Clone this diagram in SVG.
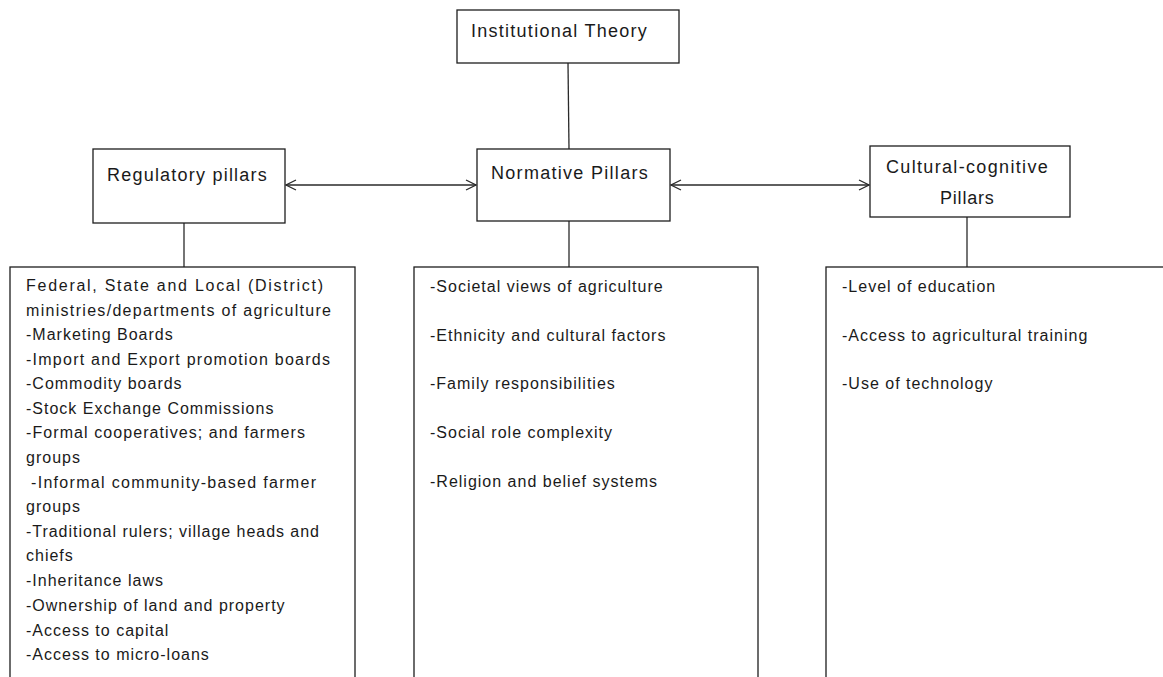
<svg xmlns="http://www.w3.org/2000/svg" width="1163" height="677" viewBox="0 0 1163 677">
  <style>
    .box { fill: #ffffff; stroke: #1e1e1e; stroke-width: 1.3; }
    .link { fill: none; stroke: #2a2a2a; stroke-width: 1.3; }
    .t { font-family: "Liberation Sans", Arial, sans-serif; font-size: 16px; letter-spacing: 1px; fill: #1a1a1a; }
    .h { font-family: "Liberation Sans", Arial, sans-serif; font-size: 18px; letter-spacing: 1.25px; fill: #1a1a1a; }
  </style>
  <defs>
    <marker id="open-arrow" viewBox="0 0 12 12" refX="11" refY="6" markerWidth="12" markerHeight="12" markerUnits="userSpaceOnUse" orient="auto-start-reverse">
      <path d="M1,1 L11,6 L1,11" fill="none" stroke="#2a2a2a" stroke-width="1.3"/>
    </marker>
  </defs>
  <rect width="1163" height="677" fill="#ffffff"/>

  <!-- connectors -->
  <g id="connectors">
    <line class="link" x1="568" y1="63" x2="569" y2="149"/>
    <line class="link" x1="286" y1="185" x2="476" y2="185" marker-start="url(#open-arrow)" marker-end="url(#open-arrow)"/>
    <line class="link" x1="671" y1="185" x2="869" y2="185" marker-start="url(#open-arrow)" marker-end="url(#open-arrow)"/>
    <line class="link" x1="184" y1="223" x2="184" y2="267"/>
    <line class="link" x1="569" y1="221" x2="569" y2="267"/>
    <line class="link" x1="967" y1="217" x2="967" y2="267"/>
  </g>

  <g id="institutional-theory">
    <rect class="box" x="457" y="10" width="222" height="53"/>
    <text class="h" x="471" y="37" textLength="177">Institutional Theory</text>
  </g>

  <g id="regulatory-pillars">
    <rect class="box" x="93" y="149" width="192" height="74"/>
    <text class="h" x="107" y="181" textLength="161">Regulatory pillars</text>
  </g>

  <g id="normative-pillars">
    <rect class="box" x="477" y="149" width="193" height="72"/>
    <text class="h" x="491" y="179" textLength="158">Normative Pillars</text>
  </g>

  <g id="cultural-cognitive-pillars">
    <rect class="box" x="870" y="146" width="200" height="71"/>
    <text class="h" x="886" y="173" textLength="163">Cultural-cognitive</text>
    <text class="h" x="940" y="204" textLength="55">Pillars</text>
  </g>

  <g id="regulatory-items">
    <rect class="box" x="10" y="267" width="345" height="420"/>
    <text class="t" x="26" y="291" textLength="298">Federal, State and Local (District)</text>
    <text class="t" x="26" y="316" textLength="306">ministries/departments of agriculture</text>
    <text class="t" x="26" y="340">-Marketing Boards</text>
    <text class="t" x="26" y="365" textLength="305">-Import and Export promotion boards</text>
    <text class="t" x="26" y="389">-Commodity boards</text>
    <text class="t" x="26" y="414">-Stock Exchange Commissions</text>
    <text class="t" x="26" y="438" textLength="280">-Formal cooperatives; and farmers</text>
    <text class="t" x="26" y="463">groups</text>
    <text class="t" x="31" y="488" textLength="286">-Informal community-based farmer</text>
    <text class="t" x="26" y="512">groups</text>
    <text class="t" x="26" y="537" textLength="294">-Traditional rulers; village heads and</text>
    <text class="t" x="26" y="561">chiefs</text>
    <text class="t" x="26" y="586">-Inheritance laws</text>
    <text class="t" x="26" y="611">-Ownership of land and property</text>
    <text class="t" x="26" y="636">-Access to capital</text>
    <text class="t" x="26" y="660">-Access to micro-loans</text>
  </g>

  <g id="normative-items">
    <rect class="box" x="414" y="267" width="344" height="420"/>
    <text class="t" x="430" y="292">-Societal views of agriculture</text>
    <text class="t" x="430" y="341">-Ethnicity and cultural factors</text>
    <text class="t" x="430" y="389">-Family responsibilities</text>
    <text class="t" x="430" y="438">-Social role complexity</text>
    <text class="t" x="430" y="487">-Religion and belief systems</text>
  </g>

  <g id="cultural-cognitive-items">
    <rect class="box" x="826" y="267" width="345" height="420"/>
    <text class="t" x="842" y="292">-Level of education</text>
    <text class="t" x="842" y="341">-Access to agricultural training</text>
    <text class="t" x="842" y="389">-Use of technology</text>
  </g>
</svg>
